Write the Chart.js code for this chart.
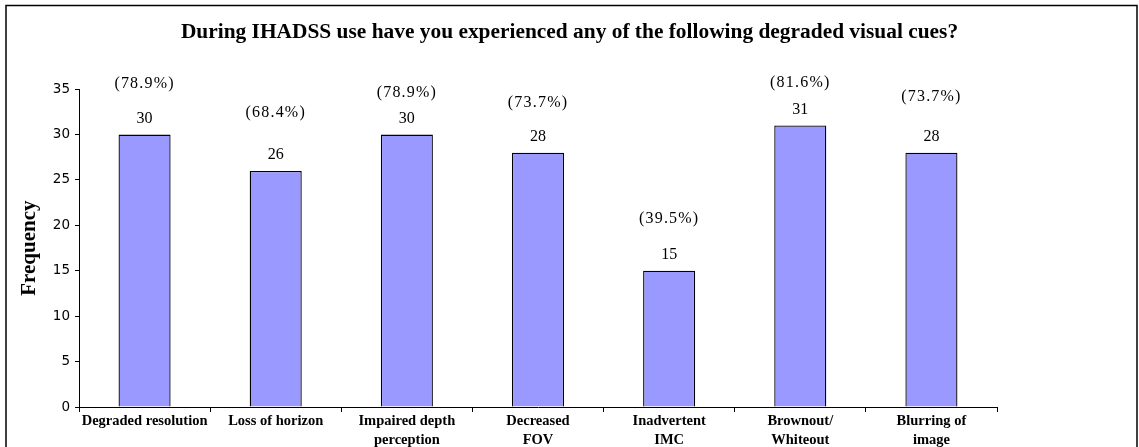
<!DOCTYPE html>
<html>
<head>
<meta charset="utf-8">
<script src="https://cdn.jsdelivr.net/npm/chart.js@4/dist/chart.umd.min.js"></script>
<style>
html,body{margin:0;padding:0;background:#fff;}
#wrap{width:1139px;height:447px;position:relative;}
</style>
</head>
<body>
<div id="wrap"><canvas id="cuesChart" width="1139" height="447"></canvas></div>
<script>
// chart data
const categories = [
  'Degraded resolution',
  'Loss of horizon',
  ['Impaired depth', 'perception'],
  ['Decreased', 'FOV'],
  ['Inadvertent', 'IMC'],
  ['Brownout/', 'Whiteout'],
  ['Blurring of', 'image']
];
const frequency = [30, 26, 30, 28, 15, 31, 28];
const percents = ['78.9', '68.4', '78.9', '73.7', '39.5', '81.6', '73.7'];
const yTicks = [0, 5, 10, 15, 20, 25, 30, 35];

// how far above the bar top each percent label sits (px)
const pctLift = [51, 58, 42, 50, 52, 43, 56];

const serif = '"Liberation Serif", "Times New Roman", serif';

document.addEventListener('DOMContentLoaded', ()=>{
const frame = {
  id:'frame',
  beforeDraw(chart){
    const c = chart.ctx;
    c.save();
    c.fillStyle = '#fff';
    c.fillRect(0,0,chart.width,chart.height);
    c.strokeStyle = '#000';
    c.lineWidth = 1.5;
    c.strokeRect(6,5.5,1131,470);
    c.restore();
  }
};

const barLabels = {
  id:'barLabels',
  afterDatasetsDraw(chart){
    const c = chart.ctx;
    const meta = chart.getDatasetMeta(0);
    c.save();
    c.fillStyle = '#000';
    c.textAlign = 'center';
    c.textBaseline = 'middle';
    meta.data.forEach((bar, i)=>{
      c.font = '16px ' + serif;
      c.letterSpacing = '0px';
      c.fillText(String(frequency[i]), bar.x, bar.y - 16);
      c.letterSpacing = '1.2px';
      c.fillText('(' + percents[i] + '%)', bar.x, bar.y - pctLift[i]);
    });
    c.restore();
  }
};

const ctx = document.getElementById('cuesChart').getContext('2d');
new Chart(ctx, {
  type:'bar',
  data:{
    labels:categories,
    datasets:[{
      label:'Frequency',
      data:frequency,
      backgroundColor:'#9999FF',
      borderColor:'#000',
      borderWidth:1.3,
      barPercentage:0.397,
      categoryPercentage:1
    }]
  },
  options:{
    responsive:false,
    animation:false,
    layout:{padding:0},
    plugins:{
      legend:{display:false},
      tooltip:{enabled:false},
      title:{
        display:true,
        text:'During IHADSS use have you experienced any of the following degraded visual cues?',
        color:'#000',
        font:{family:serif, size:21.4, weight:'bold'},
        padding:{top:20, bottom:43.5}
      }
    },
    scales:{
      x:{
        grid:{drawOnChartArea:false, drawTicks:true, tickLength:5, color:'#000', offset:true},
        border:{color:'#000', width:1},
        ticks:{
          color:'#000',
          padding:0,
          maxRotation:0,
          autoSkip:false,
          font:{family:serif, size:14.5, weight:'bold', lineHeight:1.3}
        },
        afterFit(scale){ scale.height = 40; }
      },
      y:{
        min:0, max:35,
        afterBuildTicks(scale){ scale.ticks = yTicks.map(v=>({value:v})); },
        grid:{drawOnChartArea:false, drawTicks:true, tickLength:4, color:'#000'},
        border:{color:'#000', width:1},
        ticks:{
          color:'#000',
          padding:5,
          font:{family:'"DejaVu Sans", Arial, sans-serif', size:13.5}
        },
        title:{
          display:true,
          text:'Frequency',
          color:'#000',
          font:{family:serif, size:21, weight:'bold'},
          padding:{top:17, bottom:0}
        },
        afterFit(scale){ scale.width = 79; }
      },
      // empty space on the right of the plot
      yRight:{
        position:'right',
        display:true,
        grid:{display:false},
        border:{display:false},
        ticks:{display:false},
        afterFit(scale){ scale.width = 142; }
      }
    }
  },
  plugins:[frame, barLabels]
});
});
</script>
</body>
</html>
